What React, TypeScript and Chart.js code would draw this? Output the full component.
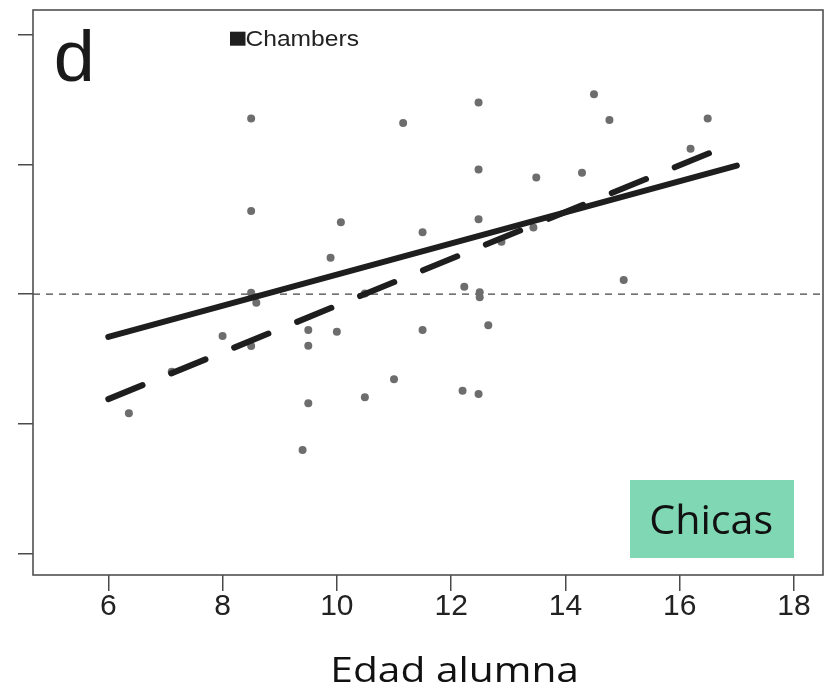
import React, { useEffect, useRef } from "react";
import { Chart, registerables } from "chart.js";

Chart.register(...registerables);

// ---- data ----
const pointsX = [
  8.5, 11.16, 12.48, 12.48, 8.5, 10.07, 11.5, 12.48, 9.89, 12.23,
  8.5, 8.59, 10.49, 12.5, 12.5, 8.0, 9.5, 10.0, 11.5, 8.5,
  9.5, 7.11, 6.36, 9.5, 10.49, 11.0, 12.2, 12.48, 9.4, 14.5,
  14.77, 16.49, 16.19, 13.49, 14.29, 13.44, 12.88, 15.02, 12.65,
];
const pointsY = [
  1.354, 1.318, 1.477, 0.961, 0.64, 0.553, 0.476, 0.576, 0.28, 0.056,
  0.01, -0.067, 0.005, 0.013, -0.025, -0.324, -0.277, -0.291, -0.277, -0.401,
  -0.398, -0.599, -0.919, -0.842, -0.796, -0.657, -0.745, -0.771, -1.202, 1.541,
  1.341, 1.354, 1.12, 0.899, 0.935, 0.514, 0.403, 0.108, -0.241,
];
const solidX = [6, 17];
const solidY = [-0.33, 0.99];
const dashedX = [6, 16.65];
const dashedY = [-0.81, 1.11];
const xTicks = [6, 8, 10, 12, 14, 16, 18];
const yTicks = [-2, -1, 0, 1, 2];
const xMin = 4.682;
const xMax = 18.508;
const yMin = -2.166;
const yMax = 2.19;
const zeroX = [xMin, xMax];
const zeroY = [0, 0];
const legendLabel = "Chambers";
const panelLabel = "d";
const groupLabel = "Chicas";
const xTitle = "Edad alumna";

function zip(xs: number[], ys: number[]) {
  return xs.map((x, i) => ({ x, y: ys[i] }));
}

function drawFitted(
  ctx: CanvasRenderingContext2D,
  text: string,
  family: string,
  x0: number,
  x1: number,
  yTop: number,
  yBase: number,
  color: string
) {
  ctx.save();
  ctx.font = `normal 100px ${family}`;
  const m = ctx.measureText(text);
  const asc = m.actualBoundingBoxAscent;
  const inkW = m.actualBoundingBoxLeft + m.actualBoundingBoxRight;
  const size = (100 * (yBase - yTop)) / asc;
  const k = size / 100;
  const sx = (x1 - x0) / (inkW * k);
  ctx.font = `normal ${size}px ${family}`;
  ctx.fillStyle = color;
  ctx.textAlign = "left";
  ctx.textBaseline = "alphabetic";
  ctx.translate(x0, yBase);
  ctx.scale(sx, 1);
  ctx.fillText(text, m.actualBoundingBoxLeft * k, 0);
  ctx.restore();
}

const decorPlugin = {
  id: "decor",
  afterDraw(chart: any) {
    const ctx: CanvasRenderingContext2D = chart.ctx;
    const a = chart.chartArea;
    ctx.save();
    // plot frame
    ctx.strokeStyle = "#505050";
    ctx.lineWidth = 1.6;
    ctx.strokeRect(a.left, a.top, a.right - a.left, a.bottom - a.top);
    // legend square
    ctx.fillStyle = "#1e1e1e";
    ctx.fillRect(230, 31.7, 15.5, 14);
    ctx.restore();
    drawFitted(ctx, legendLabel, '"Liberation Sans", Arial, sans-serif', 246.7, 358.3, 29.3, 45.7, "#222");
    drawFitted(ctx, panelLabel, '"Liberation Sans", Arial, sans-serif', 56.7, 90.7, 28.3, 81, "#1a1a1a");
    // group box
    ctx.save();
    ctx.fillStyle = "rgb(128,215,180)";
    ctx.fillRect(630, 480, 164, 78);
    ctx.restore();
    drawFitted(ctx, groupLabel, '"Open Sans", Lato, sans-serif', 651.7, 771.7, 502.7, 534, "#111");
    drawFitted(ctx, xTitle, '"Open Sans", Lato, sans-serif', 334, 576, 655, 682.3, "#111");
  },
};

export default function App() {
  const ref = useRef<HTMLCanvasElement | null>(null);
  useEffect(() => {
    if (!ref.current) return;
    const chart = new Chart(ref.current, {
      type: "scatter",
      data: {
        datasets: [
          {
            label: "solid",
            data: zip(solidX, solidY),
            showLine: true,
            borderColor: "#1e1e1e",
            borderWidth: 6,
            borderCapStyle: "round",
            pointRadius: 0,
          },
          {
            label: "dashed",
            data: zip(dashedX, dashedY),
            showLine: true,
            borderColor: "#1e1e1e",
            borderWidth: 6,
            borderCapStyle: "round",
            borderDash: [37, 31],
            pointRadius: 0,
          },
          {
            label: "points",
            data: zip(pointsX, pointsY),
            showLine: false,
            pointRadius: 4,
            pointBackgroundColor: "#6d6d6d",
            pointBorderWidth: 0,
            borderColor: "#6d6d6d",
          },
          {
            label: "zero",
            data: zip(zeroX, zeroY),
            showLine: true,
            borderColor: "#444",
            borderWidth: 1.3,
            borderDash: [7, 6],
            borderCapStyle: "butt",
            pointRadius: 0,
          },
        ],
      } as any,
      options: {
        responsive: false,
        devicePixelRatio: 1,
        animation: false,
        elements: { line: { borderCapStyle: "round" } },
        layout: { padding: { top: 10, right: 6, left: 0, bottom: 0 } },
        plugins: {
          legend: { display: false },
          tooltip: { enabled: false },
        },
        scales: {
          x: {
            type: "linear",
            min: xMin,
            max: xMax,
            afterBuildTicks: (s: any) => {
              s.ticks = xTicks.map((v) => ({ value: v }));
            },
            afterFit: (s: any) => {
              s.height = 116;
            },
            grid: {
              drawOnChartArea: false,
              drawTicks: true,
              tickLength: 16,
              color: "#4a4a4a",
              lineWidth: 1.5,
            },
            border: { display: false },
            ticks: {
              color: "#222",
              padding: 1,
              maxRotation: 0,
              autoSkip: false,
              font: { family: '"Liberation Sans", Arial, sans-serif', size: 30, lineHeight: 1 },
              callback: (v: any) => String(v),
            },
          },
          y: {
            type: "linear",
            min: yMin,
            max: yMax,
            afterBuildTicks: (s: any) => {
              s.ticks = yTicks.map((v) => ({ value: v }));
            },
            afterFit: (s: any) => {
              s.width = 33;
            },
            grid: {
              drawOnChartArea: false,
              drawTicks: true,
              tickLength: 15,
              color: "#4a4a4a",
              lineWidth: 1.5,
            },
            border: { display: false },
            ticks: {
              padding: 0,
              callback: () => "",
            },
          },
        },
      } as any,
      plugins: [decorPlugin],
    });
    return () => chart.destroy();
  }, []);
  return (
    <div style={{ position: "fixed", left: 0, top: 0, width: 829, height: 691, background: "#fff" }}>
      <canvas ref={ref} width={829} height={691} style={{ width: 829, height: 691, display: "block" }} />
    </div>
  );
}
